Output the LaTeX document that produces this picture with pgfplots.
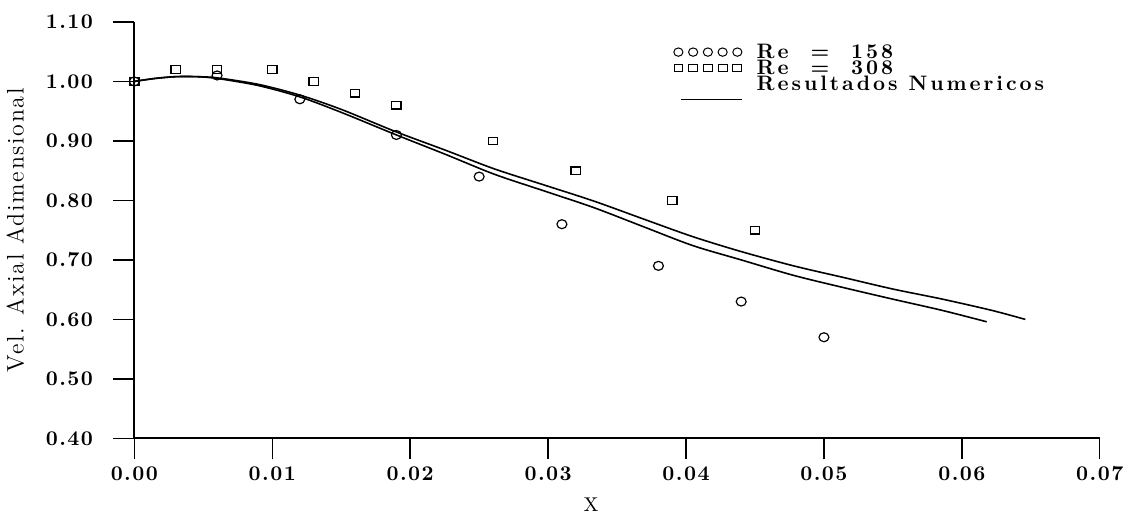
\documentclass[border=0pt]{standalone}
\usepackage{fontspec}
\setmainfont{Latin Modern Roman}
\usepackage{pgfplots}
\pgfplotsset{compat=1.18}
\newcommand\tkfont{\fontsize{10.5}{12}\selectfont\bfseries\addfontfeatures{LetterSpace=7}}
\newcommand\legfont{\fontsize{10.5}{12}\selectfont\bfseries\addfontfeatures{LetterSpace=14}}
\newcommand\ylfont{\fontsize{12}{14}\selectfont\addfontfeatures{LetterSpace=7}}
\begin{document}
\begin{tikzpicture}
\begin{axis}[
  scale only axis,
  width=484.5pt, height=209pt,
  xmin=0, xmax=0.07, ymin=0.4, ymax=1.1,
  scaled ticks=false,
  axis x line*=bottom, axis y line*=left,
  axis line style={-, line width=0.9pt},
  tick style={line width=0.7pt, black},
  tick align=outside,
  major tick length=10.5pt,
  xtick={0,0.01,0.02,0.03,0.04,0.05,0.06,0.07},
  xticklabels={0.00,0.01,0.02,0.03,0.04,0.05,0.06,0.07},
  ytick={0.4,0.5,0.6,0.7,0.8,0.9,1.0,1.1},
  yticklabels={0.40,0.50,0.60,0.70,0.80,0.90,1.00,1.10},
  tick label style={font=\tkfont},
  yticklabel style={xshift=-6.7pt},
  xlabel={X}, ylabel={Vel. Axial Adimensional},
  xlabel style={font=\fontsize{10}{12}\selectfont, inner sep=1pt, xshift=-13pt, yshift=-4pt},
  ylabel style={font=\ylfont, yshift=4pt},
  legend style={draw=none, fill=none, at={(axis cs:0.0392,1.063)}, anchor=north west,
    font=\legfont, row sep=0.3pt, inner sep=0pt,
    nodes={inner sep=0.3pt, text height=6.9pt, text depth=0.3pt},
    /tikz/every odd column/.append style={column sep=4.5pt}},
  legend cell align=left,
]
\addplot[only marks, mark=o, mark size=2.5pt, line width=0.6pt, mark options={yscale=0.9},
  legend image code/.code={\path[draw=none, fill=none] (0,-1pt) rectangle (36pt,1pt);
    \foreach \i in {0,1,2,3,4}{\draw[overlay, line width=0.5pt] (\i*7.4pt+1.5pt,0) ellipse (2.3pt and 2.1pt);}}]
coordinates {(0,1.00) (0.006,1.01) (0.012,0.97) (0.019,0.91) (0.025,0.84) (0.031,0.76) (0.038,0.69) (0.044,0.63) (0.050,0.57)};
\addlegendentry{Re \ = \ 158}
\addplot[only marks, mark=square, mark size=2.35pt, line width=0.6pt, mark options={yscale=0.8},
  legend image code/.code={\path[draw=none, fill=none] (0,-1pt) rectangle (36pt,1pt);
    \foreach \i in {0,1,2,3,4}{\draw[overlay, line width=0.5pt] (\i*7.4pt+1.5pt-2.2pt,-1.7pt) rectangle ++(4.4pt,3.4pt);}}]
coordinates {(0,1.00) (0.003,1.02) (0.006,1.02) (0.010,1.02) (0.013,1.00) (0.016,0.98) (0.019,0.96) (0.026,0.90) (0.032,0.85) (0.039,0.80) (0.045,0.75)};
\addlegendentry{Re \ = \ 308}
\addplot[black, line width=0.8pt, smooth,
  legend image code/.code={\path[draw=none, fill=none] (0,-1pt) rectangle (36pt,1pt);
    \draw[overlay, line width=0.6pt] (3pt,-7.5pt) -- (33.5pt,-7.5pt);}]
coordinates {(0,1.0) (0.0015,1.005) (0.003,1.008) (0.0045,1.008) (0.006,1.006) (0.009,0.995) (0.012,0.977) (0.015,0.953) (0.0189,0.916) (0.0226,0.884) (0.0261,0.853) (0.0297,0.826) (0.0333,0.799) (0.037,0.768) (0.0405,0.739) (0.044,0.714) (0.0478,0.690) (0.0515,0.670) (0.055,0.651) (0.0586,0.634) (0.0622,0.615) (0.0646,0.600)};
\addlegendentry{Resultados Numericos}
\addplot[black, line width=0.8pt, smooth, forget plot]
coordinates {(0,1.0) (0.0015,1.005) (0.003,1.008) (0.0045,1.008) (0.006,1.005) (0.009,0.993) (0.012,0.974) (0.015,0.948) (0.0189,0.911) (0.0226,0.877) (0.0261,0.844) (0.0297,0.816) (0.0333,0.788) (0.037,0.755) (0.0405,0.724) (0.044,0.700) (0.0478,0.674) (0.0515,0.653) (0.055,0.634) (0.0586,0.615) (0.0618,0.596)};
\end{axis}
\path (current axis.north west) -- ++(0,11pt);
\end{tikzpicture}
\end{document}
